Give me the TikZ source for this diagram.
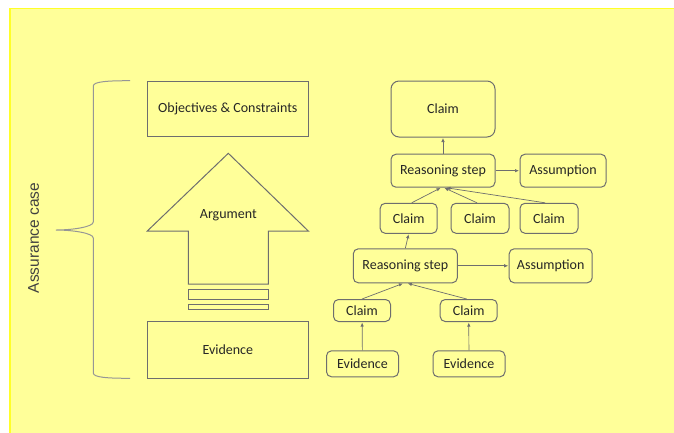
\documentclass[tikz,border=0pt]{standalone}
\usepackage{fontspec}
\setmainfont{Carlito}
\newfontfamily\sidefont{Liberation Sans}
\usetikzlibrary{arrows.meta, positioning}

\definecolor{bgyellow}{RGB}{255,255,153}
\definecolor{rimyellow}{RGB}{255,255,40}
\definecolor{linegray}{RGB}{110,110,110}
\definecolor{bracegray}{RGB}{150,150,150}

\begin{document}
\begin{tikzpicture}[
    x=1pt, y=-1pt,
    every node/.style={font=\fontsize{14}{16}\selectfont, text=black!85},
    sqbox/.style={rectangle, draw=linegray, line width=1pt, text centered},
    rbox/.style={rectangle, draw=linegray, line width=1pt, rounded corners=5pt,
                 text centered, inner sep=1pt},
    arr/.style={-{Latex[length=4pt,width=3.5pt]}, draw=linegray, line width=0.7pt,
                shorten >=0.5pt},
]
    \useasboundingbox (0,0) rectangle (674,432);
    \fill[white] (0,0) rectangle (674,432);
    \filldraw[fill=bgyellow, draw=rimyellow, line width=1.5pt] (10,8.5) rectangle (690,445);

    % left column
    \node[sqbox, minimum width=161pt, minimum height=55pt] (obj) at (227.8,109.3)
        {Objectives \& Constraints};
    \node[sqbox, minimum width=161pt, minimum height=57pt] (evid) at (227.8,349.5)
        {Evidence};
    \draw[linegray, line width=1pt] (188.3,284) -- (188.3,231) -- (147.3,231)
        -- (228.3,153.3) -- (308.3,231) -- (268.3,231) -- (268.3,284) -- cycle;
    \node (argu) at (228.3,215) {Argument};
    \draw[linegray, line width=1pt] (188.3,289.3) rectangle (268.3,299);
    \draw[linegray, line width=1pt] (188.3,304) rectangle (268.3,309.3);

    % brace
    \draw[bracegray, line width=1pt] (130,80.7) .. controls (108,80.7) and (93.3,81.5) .. (93.3,86)
        -- (93.3,222) .. controls (93.3,227) and (72,230) .. (56,230)
        .. controls (72,230) and (93.3,233) .. (93.3,238)
        -- (93.3,373) .. controls (93.3,377.5) and (108,378.3) .. (130,378.3);
    \node[rotate=90, font=\sidefont\fontsize{15.5}{17}\selectfont, text=black!75] (acase) at (33.5,238)
        {Assurance case};

    % right column
    \node[rbox, rounded corners=8pt, minimum width=104pt, minimum height=56pt] (top) at (443,109) {Claim};
    \node[rbox, minimum width=104pt, minimum height=33pt] (rs1) at (443,170.7) {Reasoning step};
    \node[rbox, minimum width=86pt, minimum height=33pt] (asm1) at (563,170.7) {Assumption};
    \node[rbox, minimum width=57pt, minimum height=30pt] (c1) at (408.7,218.3) {Claim};
    \node[rbox, minimum width=58pt, minimum height=30pt] (c2) at (480,218.3) {Claim};
    \node[rbox, minimum width=58pt, minimum height=30pt] (c3) at (549,218.3) {Claim};
    \node[rbox, minimum width=104pt, minimum height=34pt] (rs2) at (405.3,265.8) {Reasoning step};
    \node[rbox, minimum width=83pt, minimum height=34pt] (asm2) at (550.7,265.8) {Assumption};
    \node[rbox, minimum width=57pt, minimum height=22pt] (c4) at (362,310.5) {Claim};
    \node[rbox, minimum width=57pt, minimum height=22pt] (c5) at (468.7,310.5) {Claim};
    \node[rbox, minimum width=72pt, minimum height=26pt] (ev1) at (362.5,363.8) {Evidence};
    \node[rbox, minimum width=72pt, minimum height=26pt] (ev2) at (469,363.8) {Evidence};

    \draw[arr] (rs1) -- (top);
    \draw[arr] (rs1) -- (asm1);
    \draw[arr] ([xshift=3pt]c1.north) -- ([xshift=-2pt]rs1.south);
    \draw[arr] ([xshift=-3pt]c2.north) -- ([xshift=1pt]rs1.south);
    \draw[arr] ([xshift=-4pt]c3.north) -- ([xshift=3pt]rs1.south);
    \draw[arr] (rs2.north) -- (c1.south);
    \draw[arr] (rs2) -- (asm2);
    \draw[arr] (c4.north) -- ([xshift=-2pt]rs2.south);
    \draw[arr] ([xshift=-2pt]c5.north) -- ([xshift=2pt]rs2.south);
    \draw[arr] (ev1) -- (c4);
    \draw[arr] (ev2) -- (c5);
\end{tikzpicture}
\end{document}
